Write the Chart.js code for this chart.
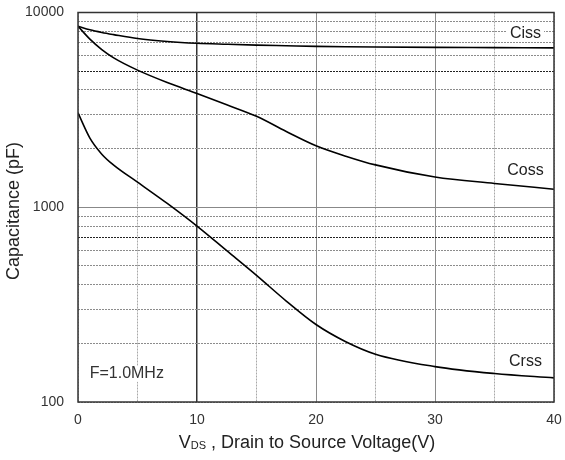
<!DOCTYPE html>
<html>
<head>
<meta charset="utf-8">
<script src="https://cdn.jsdelivr.net/npm/chart.js@4/dist/chart.umd.min.js"></script>
<style>
html, body { margin: 0; padding: 0; background: #fff; }
#wrap { width: 565px; height: 460px; }
</style>
</head>
<body>
<div id="wrap"><canvas id="cap-chart" width="565" height="460"></canvas></div>
<script>
// Capacitance vs VDS (log scale)
const vds  = [0, 1, 2, 3, 5, 7.5, 10, 12.5, 15, 17.5, 20, 22.5, 25, 30, 35, 40];
const ciss = [8500, 8150, 7900, 7700, 7350, 7100, 6950, 6870, 6800, 6750, 6700, 6670, 6650, 6620, 6600, 6580];
const coss = [8500, 7300, 6450, 5850, 5060, 4370, 3840, 3360, 2930, 2450, 2070, 1830, 1650, 1430, 1325, 1238];
const crss = [3050, 2265, 1873, 1645, 1345, 1046, 800, 598, 447, 330, 250, 204, 176, 152, 140, 133];

const seriesNames = ['Ciss', 'Coss', 'Crss'];
const noteText = 'F=1.0MHz';

const xGrid = [0, 5, 10, 15, 20, 25, 30, 35, 40];
const xLabels = [0, 10, 20, 30, 40];
const yGrid = [100, 200, 300, 400, 500, 600, 700, 800, 900,
               1000, 2000, 3000, 4000, 5000, 6000, 7000, 8000, 9000, 10000];
const yLabels = [100, 1000, 10000];

const FONT = '"Liberation Sans", Arial, sans-serif';

function toPoints(values) {
    return vds.map((v, i) => ({ x: v, y: values[i] }));
}

// grid styling per tick
function xGridColor(ctx) {
    const v = ctx.tick && ctx.tick.value;
    if (v === 10) return '#333';
    if (v === 20 || v === 30) return '#8a8a8a';
    return '#a8a8a8';
}
function xGridDash(ctx) {
    const v = ctx.tick && ctx.tick.value;
    if (v === 10 || v === 20 || v === 30) return [];
    return [2, 1];
}
function yGridColor(ctx) {
    const v = ctx.tick && ctx.tick.value;
    if (v === 5000 || v === 700) return '#222';
    if (v === 1000) return '#888';
    return '#8c8c8c';
}
function yGridDash(ctx) {
    const v = ctx.tick && ctx.tick.value;
    if (v === 1000) return [];
    return [2, 1];
}

const decorPlugin = {
    id: 'decor',
    afterDraw(chart) {
        const { ctx, chartArea } = chart;
        const xs = chart.scales.x;
        const ys = chart.scales.y;

        // plot frame
        ctx.save();
        ctx.strokeStyle = '#333';
        ctx.lineWidth = 1.5;
        ctx.strokeRect(chartArea.left, chartArea.top,
            chartArea.right - chartArea.left, chartArea.bottom - chartArea.top);

        // curve names, anchored near the end of each curve
        ctx.font = '16px ' + FONT;
        ctx.textAlign = 'center';
        ctx.textBaseline = 'middle';
        const ends = [ciss, coss, crss];
        const lift = [1.18, 1.24, 1.21];
        seriesNames.forEach((name, i) => {
            const px = xs.getPixelForValue(37.6);
            const py = ys.getPixelForValue(ends[i][ends[i].length - 1] * lift[i]);
            const w = ctx.measureText(name).width;
            if (i === 0) {
                ctx.fillStyle = '#fff';
                ctx.fillRect(px - w / 2 - 3, py - 8, w + 6, 16);
            }
            ctx.fillStyle = '#222';
            ctx.fillText(name, px, py);
        });

        // test frequency note
        const nx = xs.getPixelForValue(4.1);
        const ny = ys.getPixelForValue(139.6);
        const nw = ctx.measureText(noteText).width;
        ctx.fillStyle = '#fff';
        ctx.fillRect(nx - nw / 2 - 3, ny - 8, nw + 6, 16);
        ctx.fillStyle = '#333';
        ctx.fillText(noteText, nx, ny);

        // y axis title
        ctx.save();
        ctx.translate(14, 211);
        ctx.rotate(-Math.PI / 2);
        ctx.font = '18px ' + FONT;
        ctx.fillStyle = '#222';
        ctx.fillText('Capacitance (pF)', 0, 0);
        ctx.restore();

        // x axis title with subscript
        const big = '18px ' + FONT;
        const small = '11px ' + FONT;
        const rest = ' , Drain to Source Voltage(V)';
        ctx.font = big;
        const w1 = ctx.measureText('V').width;
        const w3 = ctx.measureText(rest).width;
        ctx.font = small;
        const w2 = ctx.measureText('DS').width;
        let tx = (chartArea.left + chartArea.right) / 2 - 9 - (w1 + w2 + w3) / 2;
        const base = 448;
        ctx.textAlign = 'left';
        ctx.textBaseline = 'alphabetic';
        ctx.fillStyle = '#222';
        ctx.font = big;
        ctx.fillText('V', tx, base);
        tx += w1;
        ctx.font = small;
        ctx.fillText('DS', tx, base + 1);
        tx += w2;
        ctx.font = big;
        ctx.fillText(rest, tx, base);
        ctx.restore();
    }
};

function lineSet(label, values) {
    return {
        label: label,
        data: toPoints(values),
        borderColor: '#000',
        borderWidth: 1.6,
        pointRadius: 0,
        fill: false,
        cubicInterpolationMode: 'monotone'
    };
}

const ctx = document.getElementById('cap-chart').getContext('2d');
const capChart = new Chart(ctx, {
    type: 'line',
    data: {
        datasets: [
            lineSet('Ciss', ciss),
            lineSet('Coss', coss),
            lineSet('Crss', crss)
        ]
    },
    options: {
        responsive: false,
        animation: false,
        layout: { padding: { top: 12.5, right: 11, left: 0, bottom: 0 } },
        plugins: {
            legend: { display: false },
            tooltip: { enabled: false }
        },
        scales: {
            x: {
                type: 'linear',
                min: 0,
                max: 40,
                afterBuildTicks: (scale) => { scale.ticks = xGrid.map(v => ({ value: v })); },
                afterFit: (scale) => {
                    scale.height = 58;
                    scale.paddingLeft = 0;
                    scale.paddingRight = 0;
                },
                ticks: {
                    autoSkip: false,
                    maxRotation: 0,
                    padding: 10,
                    color: '#333',
                    font: { family: FONT, size: 14 },
                    callback: (value) => xLabels.includes(value) ? String(value) : ''
                },
                grid: { drawTicks: false, color: xGridColor, lineWidth: (c) => (c.tick && c.tick.value === 10) ? 1.5 : 1 },
                border: { display: false, dash: xGridDash }
            },
            y: {
                type: 'logarithmic',
                min: 100,
                max: 10000,
                afterBuildTicks: (scale) => { scale.ticks = yGrid.map(v => ({ value: v })); },
                afterFit: (scale) => {
                    scale.width = 78;
                    scale.paddingTop = 0;
                    scale.paddingBottom = 0;
                },
                ticks: {
                    autoSkip: false,
                    padding: 14,
                    color: '#333',
                    font: { family: FONT, size: 14 },
                    callback: (value) => yLabels.includes(value) ? String(value) : ''
                },
                grid: { drawTicks: false, color: yGridColor },
                border: { display: false, dash: yGridDash }
            }
        }
    },
    plugins: [decorPlugin]
});
</script>
</body>
</html>
